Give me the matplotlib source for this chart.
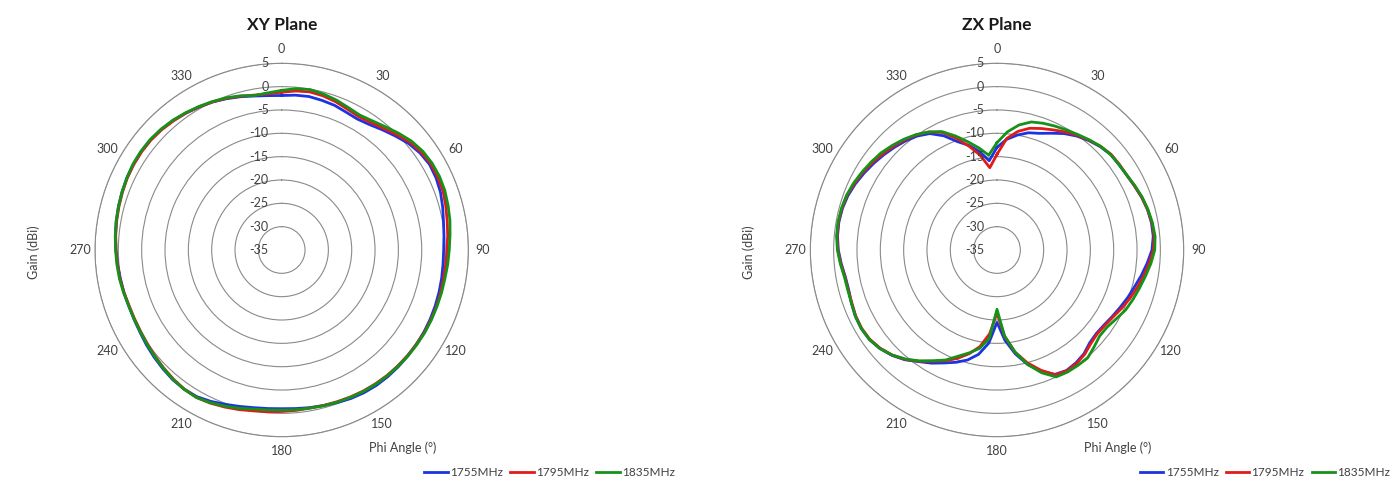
import numpy as np
import matplotlib
matplotlib.use("Agg")
import matplotlib.pyplot as plt
from matplotlib.transforms import offset_copy

plt.rcParams['font.family'] = ['Lato', 'DejaVu Sans']

# ---- data (gain in dBi) ----
freq_labels = ['1755MHz', '1795MHz', '1835MHz']
line_colors = ['#1a35e0', '#e01b1b', '#16921a']

xy_angles = list(range(0, 360, 5))
xy_1755 = [-1.9, -1.7, -1.6, -1.8, -2.0, -2.4, -2.6, -2.2, -1.4, -0.5, 0.5, 1.2,
           1.6, 1.5, 1.2, 0.7, 0.2, -0.1, -0.3, -0.3, -0.2, -0.1, 0.0, 0.1,
           0.2, 0.25, 0.3, 0.35, 0.4, 0.4, 0.3, 0.1, -0.2, -0.5, -0.7, -0.9,
           -1.0, -0.9, -0.7, -0.3, 0.2, 0.8, 1.3, 1.4, 1.3, 1.0, 0.7, 0.4,
           0.1, -0.05, -0.1, 0.0, 0.1, 0.3, 0.5, 0.75, 1.0, 1.2, 1.4, 1.6,
           1.7, 1.75, 1.7, 1.5, 1.2, 0.8, 0.4, 0.0, -0.5, -1.0, -1.5, -1.8]
xy_1795 = [-1.2, -0.8, -0.6, -0.8, -1.2, -1.7, -2.0, -1.7, -1.0, -0.1, 0.9, 1.5,
           1.9, 1.9, 1.8, 1.4, 1.0, 0.7, 0.4, 0.3, 0.2, 0.25, 0.3, 0.3,
           0.3, 0.25, 0.2, 0.15, 0.1, 0.0, -0.1, -0.25, -0.4, -0.5, -0.6, -0.5,
           -0.4, -0.2, 0.0, 0.4, 0.8, 1.2, 1.5, 1.4, 1.1, 0.75, 0.4, 0.1,
           -0.1, -0.2, -0.2, 0.0, 0.2, 0.35, 0.5, 0.7, 0.9, 1.1, 1.3, 1.5,
           1.6, 1.65, 1.6, 1.4, 1.1, 0.8, 0.4, 0.0, -0.4, -0.9, -1.3, -1.4]
xy_1835 = [-0.8, -0.3, -0.1, -0.4, -0.8, -1.3, -1.6, -1.2, -0.5, 0.4, 1.3, 1.9,
           2.2, 2.3, 2.2, 1.9, 1.6, 1.2, 0.9, 0.7, 0.5, 0.45, 0.4, 0.4,
           0.4, 0.35, 0.3, 0.25, 0.2, 0.1, 0.0, -0.15, -0.3, -0.45, -0.6, -0.65,
           -0.7, -0.6, -0.4, 0.1, 0.6, 1.1, 1.5, 1.45, 1.2, 0.85, 0.5, 0.2,
           0.0, -0.1, -0.1, 0.1, 0.3, 0.45, 0.6, 0.8, 1.0, 1.2, 1.4, 1.6,
           1.8, 1.85, 1.8, 1.6, 1.3, 0.9, 0.5, 0.1, -0.3, -0.8, -1.4, -1.2]

zx_angles = list(range(0, 360, 5))
zx_1755 = [-13.0, -11.2, -10.0, -9.0, -8.4, -7.4, -6.2, -5.2, -4.4, -3.7, -3.2, -3.1,
           -2.9, -2.5, -2.0, -1.6, -1.4, -1.4, -1.8, -2.7, -3.6, -4.5, -5.2, -5.9,
           -6.5, -7.0, -7.2, -6.9, -6.0, -5.5, -5.2, -5.6, -7.4, -9.6, -12.4, -15.6,
           -19.5, -15.0, -12.3, -10.6, -9.4, -8.3, -7.0, -5.8, -4.3, -3.1, -2.2, -1.6,
           -1.4, -1.5, -1.8, -2.1, -2.0, -1.5, -1.0, -0.7, -0.6, -0.7, -1.0, -1.5,
           -2.1, -2.7, -3.3, -3.9, -4.5, -5.2, -6.2, -8.0, -10.3, -11.8, -13.6, -15.8]
zx_1795 = [-14.5, -11.0, -9.2, -8.0, -7.3, -6.6, -5.8, -5.0, -4.3, -3.6, -3.1, -3.0,
           -2.9, -2.5, -2.0, -1.6, -1.3, -1.2, -1.5, -2.3, -3.1, -3.9, -4.7, -5.5,
           -6.3, -6.8, -7.0, -6.6, -5.8, -5.3, -5.1, -5.5, -7.6, -10.0, -12.8, -16.5,
           -21.5, -17.0, -14.0, -12.0, -10.3, -8.8, -7.5, -5.9, -4.4, -3.2, -2.3, -1.7,
           -1.5, -1.6, -1.9, -2.0, -1.9, -1.4, -0.9, -0.6, -0.5, -0.6, -0.8, -1.3,
           -1.8, -2.4, -3.0, -3.6, -4.2, -4.9, -5.8, -7.2, -9.5, -12.0, -14.4, -17.3]
zx_1835 = [-12.0, -9.6, -7.8, -6.6, -6.1, -5.7, -5.3, -4.8, -4.2, -3.6, -3.2, -3.1,
           -2.9, -2.4, -1.9, -1.5, -1.2, -1.0, -1.2, -1.9, -2.7, -3.4, -4.0, -4.6,
           -5.5, -6.2, -6.3, -5.6, -4.8, -4.8, -4.8, -5.0, -7.0, -9.6, -12.8, -16.5,
           -22.3, -16.0, -13.6, -12.2, -10.8, -9.0, -7.6, -6.0, -4.5, -3.2, -2.2, -1.6,
           -1.4, -1.5, -1.8, -1.9, -1.8, -1.3, -0.8, -0.5, -0.4, -0.5, -0.7, -1.1,
           -1.6, -2.1, -2.6, -3.3, -4.0, -4.8, -5.8, -7.0, -9.0, -11.0, -12.8, -14.6]

r_ticks = [-35, -30, -25, -20, -15, -10, -5, 0, 5]
theta_ticks = list(range(0, 360, 30))

W, H = 1392, 482
grid_col = '#8a8a8a'
text_col = '#404040'


def rect(cx, cy, R):
    return [(cx - R) / W, 1 - (cy + R) / H, 2 * R / W, 2 * R / H]


def draw_panel(fig, cx, title, angles, series):
    R = 186.7
    cy = 250
    ax = fig.add_axes(rect(cx, cy, R), projection='polar')
    ax.set_theta_zero_location('N')
    ax.set_theta_direction(-1)
    ax.set_ylim(-35, 5)
    ax.set_yticks(r_ticks)
    ax.set_yticklabels([])
    ax.set_thetagrids(theta_ticks, [str(t) for t in theta_ticks])
    ax.tick_params(axis='x', pad=0, labelsize=9, colors=text_col)
    ax.xaxis.grid(False)
    ax.yaxis.grid(True, color=grid_col, lw=0.8)
    ax.spines['polar'].set_color(grid_col)
    ax.spines['polar'].set_linewidth(0.8)

    th = np.deg2rad(np.append(angles, angles[0]))
    for vals, col, lab in zip(series, line_colors, freq_labels):
        ax.plot(th, np.append(vals, vals[0]), color=col, lw=2.0, label=lab)

    tr = offset_copy(ax.transData, fig=fig, x=-13, y=0, units='dots')
    for v in r_ticks:
        ax.text(0, v, str(v), transform=tr, ha='right', va='center',
                fontsize=9, color=text_col)

    fig.text(cx / W, 1 - 25 / H, title, ha='center', va='center',
             fontsize=12.5, fontweight='bold', color='#1a1a1a')
    fig.text((cx - 248) / W, 1 - 252 / H, 'Gain (dBi)', rotation=90,
             ha='center', va='center', fontsize=9, color=text_col)
    fig.text((cx + 121) / W, 1 - 448 / H, 'Phi Angle (°)', ha='center',
             va='center', fontsize=9, color=text_col)
    handles, labels = ax.get_legend_handles_labels()
    fig.legend(handles, labels, loc='center', ncol=3, frameon=False,
               bbox_to_anchor=((cx + 268) / W, 1 - 473 / H),
               fontsize=8.5, handlelength=2.0, handletextpad=0.2,
               columnspacing=0.6, labelcolor=text_col)
    return ax


fig = plt.figure(figsize=(W / 100, H / 100), dpi=100)
draw_panel(fig, 281.7, 'XY Plane', xy_angles, [xy_1755, xy_1795, xy_1835])
draw_panel(fig, 997.0, 'ZX Plane', zx_angles, [zx_1755, zx_1795, zx_1835])

fig.savefig('out.png', dpi=100)
